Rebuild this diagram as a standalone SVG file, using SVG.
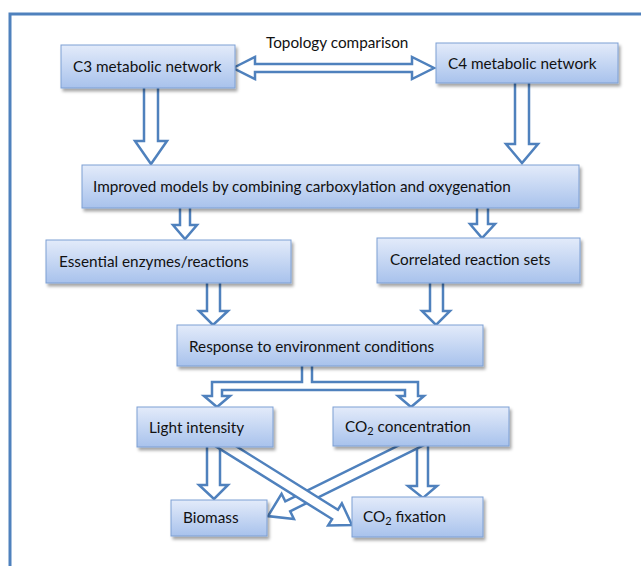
<svg xmlns="http://www.w3.org/2000/svg" width="641" height="566" viewBox="0 0 641 566">
<defs>
<linearGradient id="boxg" x1="0" y1="0" x2="0" y2="1">
<stop offset="0" stop-color="#e3ebfa"/>
<stop offset="1" stop-color="#a8c2ec"/>
</linearGradient>
<filter id="sh" x="-10%" y="-20%" width="130%" height="160%">
<feDropShadow dx="2" dy="3" stdDeviation="1.5" flood-color="#000" flood-opacity="0.35"/>
</filter>
<style>
.box{fill:url(#boxg);stroke:#7d9fd3;stroke-width:1;filter:url(#sh)}
.arr{fill:#fff;stroke:#4f81bd;stroke-width:2.5;stroke-linejoin:miter}
text{font-family:Lato,"Liberation Sans",sans-serif;font-size:15.3px;fill:#111}
.sub{font-size:11px}
</style>
</defs>
<rect x="0" y="0" width="641" height="566" fill="#fff"/>
<rect x="10" y="14" width="640" height="560" fill="none" stroke="#4f81bd" stroke-width="3"/>
<g id="connectors">
<polygon class="arr" points="233,68 255,57 255,64 412,64 412,57 434,68 412,79 412,72 255,72 255,79"/>
<polygon class="arr" points="144,86 158,86 158,141 167,141 151,164 135,141 144,141"/>
<polygon class="arr" points="515,82 529,82 529,144 538,144 522,163 506,144 515,144"/>
<polygon class="arr" points="180,206 190,206 190,225 197,225 185,239 173,225 180,225"/>
<polygon class="arr" points="477,206 488,206 488,224 495,224 482,238 470,224 477,224"/>
<polygon class="arr" points="207,281 220,281 220,311 228,311 213,325 199,311 207,311"/>
<polygon class="arr" points="430,281 443,281 443,311 450,311 436,325 422,311 430,311"/>
<polygon class="arr" points="302,364 302,382 212,382 212,396 204,396 217,407 230,396 222,396 222,390 405,390 405,396 398,396 411,407 424,396 418,396 418,382 312,382 312,364"/>
<polygon class="arr" points="207,445 220,445 220,485 228,485 214,499 199,485 207,485"/>
<polygon class="arr" points="417,444 428,444 428,486 437,486 423,498 408,486 417,486"/>
<g transform="translate(424,439) rotate(153.7)">
<polygon class="arr" points="0,-5.5 152,-5.5 152,-14 174,0 152,14 152,5.5 0,5.5"/>
</g>
<g transform="translate(215.8,440) rotate(31.97)">
<polygon class="arr" points="0,-5.5 140.5,-5.5 140.5,-13 160.5,0 140.5,13 140.5,5.5 0,5.5"/>
</g>
</g>
<text id="topology-label" x="266" y="48">Topology comparison</text>
<g id="c3"><rect class="box" x="61" y="45" width="174" height="43"/><text x="73" y="72">C3 metabolic network</text></g>
<g id="c4"><rect class="box" x="436" y="43" width="182" height="40"/><text x="448" y="69">C4 metabolic network</text></g>
<g id="improved"><rect class="box" x="82" y="165" width="497" height="43"/><text x="93" y="192">Improved models by combining carboxylation and oxygenation</text></g>
<g id="essential"><rect class="box" x="46" y="240" width="245" height="43"/><text x="59" y="267">Essential enzymes/reactions</text></g>
<g id="correlated"><rect class="box" x="377" y="238" width="203" height="45"/><text x="390" y="265">Correlated reaction sets</text></g>
<g id="response"><rect class="box" x="177" y="325" width="306" height="41"/><text x="189" y="352">Response to environment conditions</text></g>
<g id="light"><rect class="box" x="137" y="407" width="136" height="40"/><text x="149" y="433">Light intensity</text></g>
<g id="co2conc"><rect class="box" x="333" y="407" width="176" height="39"/><text x="345" y="432">CO<tspan class="sub" dy="3">2</tspan><tspan dy="-3"> concentration</tspan></text></g>
<g id="biomass"><rect class="box" x="171" y="500" width="96" height="36"/><text x="183" y="523">Biomass</text></g>
<g id="co2fix"><rect class="box" x="352" y="497" width="131" height="40"/><text x="363" y="522">CO<tspan class="sub" dy="3">2</tspan><tspan dy="-3"> fixation</tspan></text></g>
</svg>
